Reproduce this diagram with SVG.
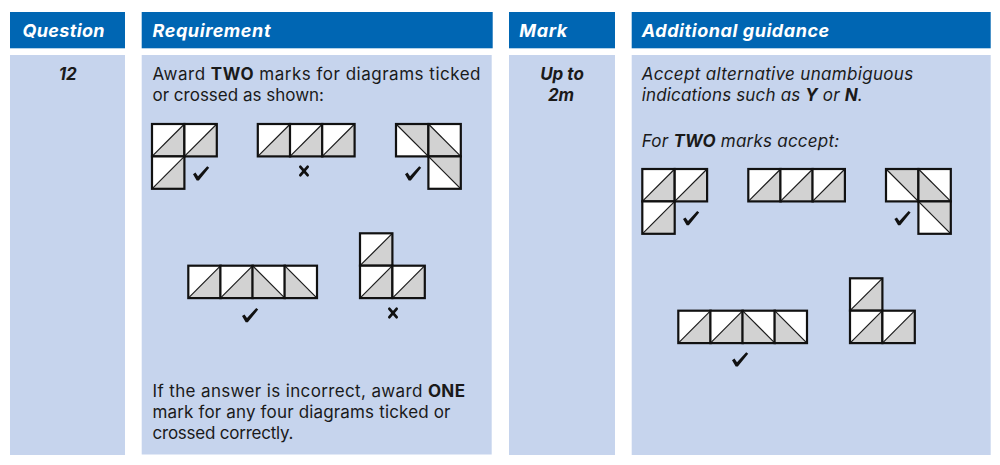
<svg xmlns="http://www.w3.org/2000/svg" xmlns:xlink="http://www.w3.org/1999/xlink" width="1000" height="465" viewBox="0 0 1000 465">
<style>
.hd{fill:#0066b3}
.bd{fill:#c6d4ed}
.ht{font-family:Inter,"Liberation Sans",sans-serif;font-size:18px;font-weight:bold;font-style:italic;fill:#fff}
.t{font-family:Inter,"Liberation Sans",sans-serif;font-size:17px;fill:#1a1a1a}
.i{font-style:italic}
.b{font-weight:bold}
.bi{font-weight:bold;font-style:italic}
.diag{stroke:#1a1a1a;stroke-width:1.2}
.edge{fill:none;stroke:#111;stroke-width:2.2}
.gr{fill:#d2d2d2}
.mk{fill:#111}
.x{stroke:#111;stroke-width:2.8;stroke-linecap:round}
</style>
<defs>
<g id="ca"><rect width="32.4" height="32.4" fill="#fff"/><polygon class="gr" points="0,32.4 32.4,32.4 32.4,0"/><line class="diag" x1="0" y1="32.4" x2="32.4" y2="0"/><rect class="edge" width="32.4" height="32.4"/></g>
<g id="cb"><rect width="32.4" height="32.4" fill="#fff"/><polygon class="gr" points="0,0 0,32.4 32.4,32.4"/><line class="diag" x1="0" y1="0" x2="32.4" y2="32.4"/><rect class="edge" width="32.4" height="32.4"/></g>
<g id="cc"><rect width="32.4" height="32.4" fill="#fff"/><polygon class="gr" points="0,0 32.4,0 32.4,32.4"/><line class="diag" x1="0" y1="0" x2="32.4" y2="32.4"/><rect class="edge" width="32.4" height="32.4"/></g>
<path id="tick" class="mk" d="M0,7.8 L2.5,6.2 L5,9.9 L14.2,-0.2 L16.2,1.4 L5.8,14 L3.7,14 Z"/>
<g id="cross"><line class="x" x1="-3.6" y1="-4.2" x2="3.6" y2="4.2"/><line class="x" x1="-3.6" y1="4.2" x2="3.6" y2="-4.2"/></g>
</defs>
<rect width="1000" height="465" fill="#fff"/>

<g id="col-question">
<rect class="hd" x="10" y="12" width="115" height="36.3"/>
<text class="ht" x="22.5" y="36.5" textLength="82">Question</text>
<rect class="bd" x="10" y="55" width="115" height="400"/>
<text class="t bi" x="67.8" y="80" text-anchor="middle">12</text>
</g>

<g id="col-requirement">
<rect class="hd" x="141.7" y="12" width="351" height="36.3"/>
<text class="ht" x="152.5" y="36.5" textLength="118">Requirement</text>
<rect class="bd" x="141.7" y="55" width="350" height="399.5"/>
<text class="t" x="152.5" y="80" textLength="328">Award <tspan class="b">TWO</tspan> marks for diagrams ticked</text>
<text class="t" x="152.5" y="101" textLength="171.5">or crossed as shown:</text>
<text class="t" x="152.5" y="396.7" textLength="312.5">If the answer is incorrect, award <tspan class="b">ONE</tspan></text>
<text class="t" x="152.5" y="417.7" textLength="298">mark for any four diagrams ticked or</text>
<text class="t" x="152.5" y="438.5" textLength="141">crossed correctly.</text>
</g>

<g id="req-shape-1">
<use xlink:href="#ca" x="152" y="124"/><use xlink:href="#ca" x="184.4" y="124"/><use xlink:href="#ca" x="152" y="156.4"/>
<use xlink:href="#tick" x="193" y="166.4"/>
</g>
<g id="req-shape-2">
<use xlink:href="#ca" x="257.8" y="124"/><use xlink:href="#ca" x="290" y="124"/><use xlink:href="#ca" x="322.2" y="124"/>
<use xlink:href="#cross" x="304" y="171"/>
</g>
<g id="req-shape-3">
<use xlink:href="#cc" x="396" y="124"/><use xlink:href="#cb" x="428.4" y="124"/><use xlink:href="#cc" x="428.4" y="156.4"/>
<use xlink:href="#tick" x="405" y="166.4"/>
</g>
<g id="req-shape-4">
<use xlink:href="#ca" x="188.3" y="265.7"/><use xlink:href="#ca" x="220.4" y="265.7"/><use xlink:href="#cb" x="252.5" y="265.7"/><use xlink:href="#cb" x="284.6" y="265.7"/>
<use xlink:href="#tick" x="242" y="308.2"/>
</g>
<g id="req-shape-5">
<use xlink:href="#ca" x="360" y="233.3"/><use xlink:href="#ca" x="360" y="265.7"/><use xlink:href="#ca" x="392.4" y="265.7"/>
<use xlink:href="#cross" x="393" y="313"/>
</g>

<g id="col-mark">
<rect class="hd" x="509" y="12" width="106" height="36.3"/>
<text class="ht" x="519.3" y="36.5" textLength="48">Mark</text>
<rect class="bd" x="509" y="55" width="106" height="400"/>
<text class="t bi" x="562" y="80" text-anchor="middle">Up to</text>
<text class="t bi" x="561" y="101" text-anchor="middle">2m</text>
</g>

<g id="col-guidance">
<rect class="hd" x="631.7" y="12" width="359" height="36.3"/>
<text class="ht" x="641.7" y="36.5" textLength="187.5">Additional guidance</text>
<rect class="bd" x="631.7" y="55" width="359" height="400"/>
<text class="t i" x="641.7" y="80" textLength="271.5">Accept alternative unambiguous</text>
<text class="t i" x="641.7" y="101" textLength="221">indications such as <tspan class="b">Y</tspan> or <tspan class="b">N</tspan>.</text>
<text class="t i" x="641.7" y="146.7" textLength="197.5">For <tspan class="b">TWO</tspan> marks accept:</text>
</g>

<g id="guid-shape-1">
<use xlink:href="#ca" x="642.3" y="169"/><use xlink:href="#ca" x="674.7" y="169"/><use xlink:href="#ca" x="642.3" y="201.4"/>
<use xlink:href="#tick" x="683" y="211.2"/>
</g>
<g id="guid-shape-2">
<use xlink:href="#ca" x="748.3" y="169"/><use xlink:href="#ca" x="780.4" y="169"/><use xlink:href="#ca" x="812.5" y="169"/>
</g>
<g id="guid-shape-3">
<use xlink:href="#cc" x="886" y="169"/><use xlink:href="#cb" x="918.4" y="169"/><use xlink:href="#cc" x="918.4" y="201.4"/>
<use xlink:href="#tick" x="894.4" y="211.2"/>
</g>
<g id="guid-shape-4">
<use xlink:href="#ca" x="678.3" y="310.7"/><use xlink:href="#ca" x="710.4" y="310.7"/><use xlink:href="#cb" x="742.5" y="310.7"/><use xlink:href="#cb" x="774.6" y="310.7"/>
<use xlink:href="#tick" x="732" y="352.4"/>
</g>
<g id="guid-shape-5">
<use xlink:href="#ca" x="850" y="278.3"/><use xlink:href="#ca" x="850" y="310.7"/><use xlink:href="#ca" x="882.4" y="310.7"/>
</g>

<g id="connectors"/>
</svg>
